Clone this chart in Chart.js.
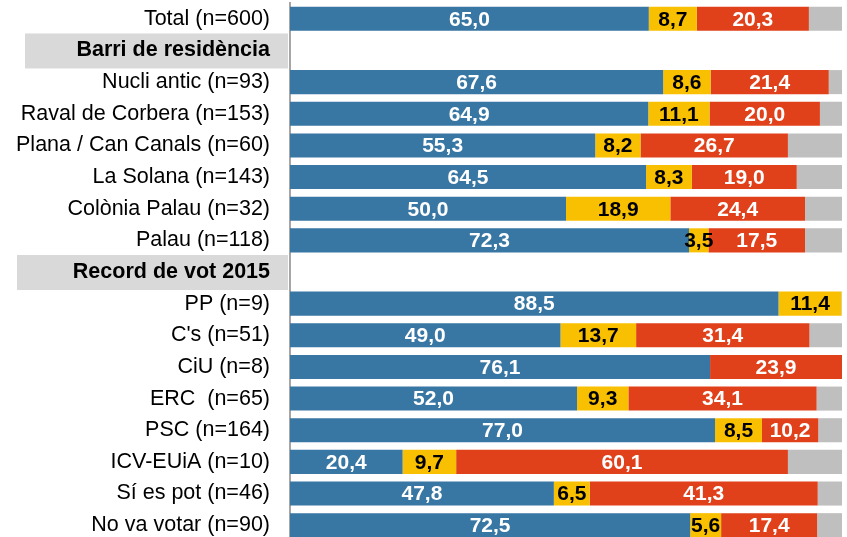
<!DOCTYPE html>
<html>
<head>
<meta charset="utf-8">
<script src="https://cdn.jsdelivr.net/npm/chart.js@4/dist/chart.umd.min.js"></script>
<style>
  html, body { margin: 0; padding: 0; overflow: hidden; background: #fff; }
  canvas { display: block; }
</style>
</head>
<body>
<canvas id="chart" width="847" height="541"></canvas>
<script>
// files (categories) - capcaleres sense valors
const labels = [
  'Total (n=600)',
  'Barri de residència',
  'Nucli antic (n=93)',
  'Raval de Corbera (n=153)',
  'Plana / Can Canals (n=60)',
  'La Solana (n=143)',
  'Colònia Palau (n=32)',
  'Palau (n=118)',
  'Record de vot 2015',
  'PP (n=9)',
  "C's (n=51)",
  'CiU (n=8)',
  'ERC  (n=65)',
  'PSC (n=164)',
  'ICV-EUiA (n=10)',
  'Sí es pot (n=46)',
  'No va votar (n=90)'
];
const headerRows = [1, 8];

const blue   = [65.0, null, 67.6, 64.9, 55.3, 64.5, 50.0, 72.3, null, 88.5, 49.0, 76.1, 52.0, 77.0, 20.4, 47.8, 72.5];
const yellow = [8.7,  null, 8.6,  11.1, 8.2,  8.3,  18.9, 3.5,  null, 11.4, 13.7, 0,    9.3,  8.5,  9.7,  6.5,  5.6];
const red    = [20.3, null, 21.4, 20.0, 26.7, 19.0, 24.4, 17.5, null, 0,    31.4, 23.9, 34.1, 10.2, 60.1, 41.3, 17.4];
const grey   = [6.0,  null, 2.4,  4.0,  9.8,  8.2,  6.7,  6.7,  null, 0.1,  5.9,  0,    4.6,  4.3,  9.8,  4.4,  4.5];

const FONT = "'Liberation Sans', Arial, sans-serif";

// caixes grises darrere les capcaleres
const headerBoxes = {
  id: 'headerBoxes',
  beforeDraw(chart) {
    const ctx = chart.ctx;
    const y = chart.scales.y;
    const lefts = { 1: 25, 8: 17 };
    ctx.save();
    ctx.fillStyle = '#d9d9d9';
    for (const i of headerRows) {
      const cy = y.getPixelForValue(i);
      ctx.fillRect(lefts[i], cy - 17, 288 - lefts[i], 35);
    }
    ctx.restore();
  }
};

// etiquetes dins de les barres
const barLabels = {
  id: 'barLabels',
  afterDatasetsDraw(chart) {
    const ctx = chart.ctx;
    ctx.save();
    ctx.font = 'bold 21px ' + FONT;
    ctx.textAlign = 'center';
    ctx.textBaseline = 'middle';
    chart.data.datasets.forEach((ds, di) => {
      if (ds.noLabel) return;
      chart.getDatasetMeta(di).data.forEach((bar, i) => {
        const v = ds.data[i];
        if (v == null || v === 0) return;
        ctx.fillStyle = ds.labelColor;
        ctx.fillText(v.toFixed(1).replace('.', ','), (bar.x + bar.base) / 2, bar.y + 1);
      });
    });
    ctx.restore();
  }
};

new Chart(document.getElementById('chart'), {
  type: 'bar',
  data: {
    labels: labels,
    datasets: [
      { data: blue,   backgroundColor: '#3876a3', labelColor: '#ffffff' },
      { data: yellow, backgroundColor: '#f8c000', labelColor: '#000000' },
      { data: red,    backgroundColor: '#e0401a', labelColor: '#ffffff' },
      { data: grey,   backgroundColor: '#bfbfbf', noLabel: true }
    ]
  },
  options: {
    indexAxis: 'y',
    responsive: false,
    animation: false,
    layout: { padding: { top: 3, right: 5, bottom: 0, left: 0 } },
    datasets: {
      bar: { barPercentage: 0.76, categoryPercentage: 1, borderWidth: 0 }
    },
    plugins: {
      legend: { display: false },
      tooltip: { enabled: false }
    },
    scales: {
      x: {
        stacked: true,
        min: 0,
        max: 100,
        display: false
      },
      y: {
        stacked: true,
        grid: { display: false, drawTicks: false },
        border: { display: true, color: '#a6a6a6', width: 2 },
        afterFit(scale) {
          scale.width = 290;
          scale.paddingTop = 0;
          scale.paddingBottom = 0;
        },
        ticks: {
          padding: 20,
          color: '#000000',
          font: (c) => ({
            family: FONT,
            size: 21.5,
            weight: headerRows.includes(c.index) ? 'bold' : 'normal'
          })
        }
      }
    }
  },
  plugins: [headerBoxes, barLabels]
});
</script>
</body>
</html>
